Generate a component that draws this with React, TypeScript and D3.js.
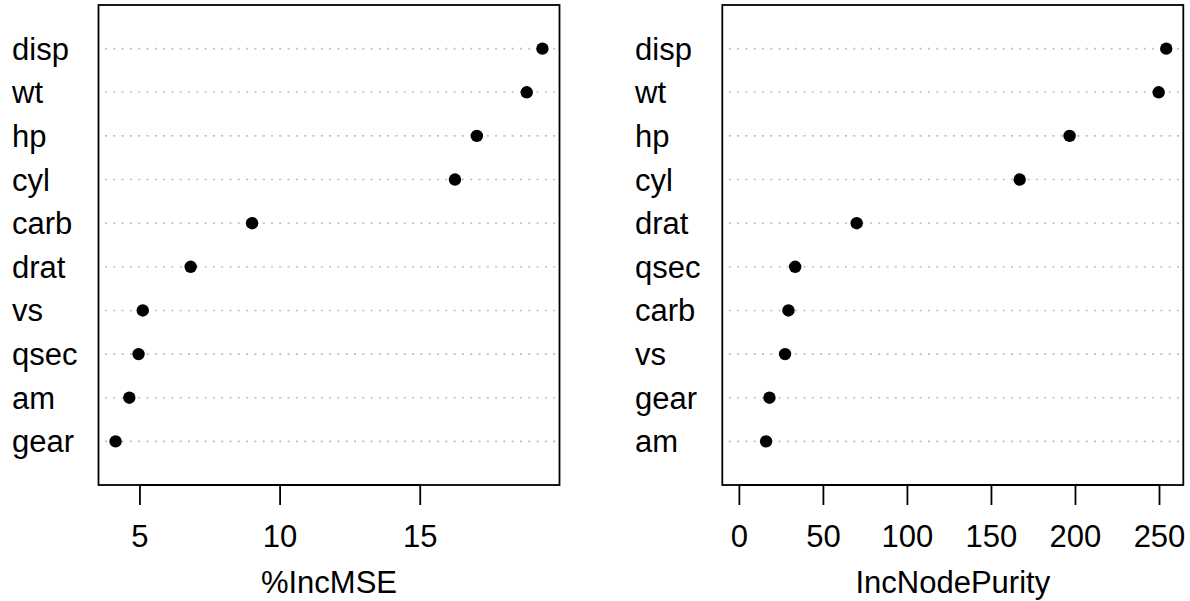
import React from "react";
import * as d3 from "d3";

// %IncMSE panel (top to bottom)
const mseVars = ["disp", "wt", "hp", "cyl", "carb", "drat", "vs", "qsec", "am", "gear"];
const mseVals = [19.36, 18.8, 17.02, 16.24, 9.0, 6.81, 5.1, 4.95, 4.62, 4.13];
const mseTicks = [5, 10, 15];

// IncNodePurity panel (top to bottom)
const npVars = ["disp", "wt", "hp", "cyl", "drat", "qsec", "carb", "vs", "gear", "am"];
const npVals = [254.0, 249.5, 196.5, 166.8, 69.8, 33.2, 29.2, 27.2, 17.9, 15.9];
const npTicks = [0, 50, 100, 150, 200, 250];

const FONT = "'Liberation Sans', Arial, Helvetica, sans-serif";
const FS = 31;

type PanelProps = {
  vars: string[];
  vals: number[];
  ticks: number[];
  title: string;
  x0: number;
  x1: number;
  labelX: number;
  xmin?: number;
};

function Panel({ vars, vals, ticks, title, x0, x1, labelX, xmin }: PanelProps) {
  const top = 5;
  const bottom = 485;
  const lo = xmin !== undefined ? xmin : (d3.min(vals) as number);
  const hi = d3.max(vals) as number;
  const ext = (hi - lo) * 0.04;
  const x = d3.scaleLinear().domain([lo - ext, hi + ext]).range([x0, x1]);
  const n = vars.length;
  const y = d3.scaleLinear().domain([0, n + 1]).range([bottom, top]);
  return (
    <g>
      {vars.map((v, i) => {
        const yy = y(n - i);
        return (
          <g key={v}>
            <line
              x1={x0}
              x2={x1}
              y1={yy}
              y2={yy}
              stroke="#bebebe"
              strokeWidth={1.6}
              strokeDasharray="2 6.3"
              strokeDashoffset={-6.5}
            />
            <text x={labelX} y={yy + 11} fontFamily={FONT} fontSize={FS} fill="#000">
              {v}
            </text>
          </g>
        );
      })}
      {vals.map((v, i) => (
        <circle key={i} cx={x(v)} cy={y(n - i)} r={6.2} fill="#000" />
      ))}
      <rect x={x0} y={top} width={x1 - x0} height={bottom - top} fill="none" stroke="#000" strokeWidth={1.8} />
      <line x1={x(ticks[0])} x2={x(ticks[ticks.length - 1])} y1={bottom} y2={bottom} stroke="#000" strokeWidth={1.8} />
      {ticks.map((t) => (
        <g key={t}>
          <line x1={x(t)} x2={x(t)} y1={bottom} y2={bottom + 20} stroke="#000" strokeWidth={1.8} />
          <text x={x(t)} y={547} textAnchor="middle" fontFamily={FONT} fontSize={FS} fill="#000">
            {t}
          </text>
        </g>
      ))}
      <text x={(x0 + x1) / 2} y={593} textAnchor="middle" fontFamily={FONT} fontSize={FS} fill="#000">
        {title}
      </text>
    </g>
  );
}

export default function App() {
  return (
    <svg
      width={1190}
      height={601}
      style={{ position: "absolute", left: 0, top: 0, background: "#fff" }}
    >
      <rect x={0} y={0} width={1190} height={601} fill="#fff" />
      <Panel vars={mseVars} vals={mseVals} ticks={mseTicks} title="%IncMSE" x0={98.5} x1={559.5} labelX={12} />
      <Panel vars={npVars} vals={npVals} ticks={npTicks} title="IncNodePurity" x0={722.3} x1={1183.3} labelX={635} xmin={0} />
    </svg>
  );
}
